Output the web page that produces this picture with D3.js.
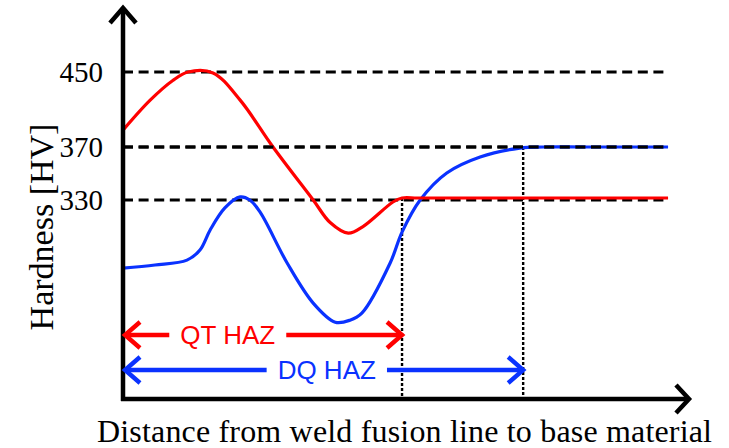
<!DOCTYPE html>
<html>
<head>
<meta charset="utf-8">
<script src="https://cdn.jsdelivr.net/npm/d3@7"></script>
<style>
  body { margin: 0; background: #fff; }
  svg { display: block; }
</style>
</head>
<body>
<svg id="chart" width="729" height="448"></svg>
<script>
// Hardness reference levels shown on the vertical axis
const hardnessTicks = [330, 370, 450];

// Quenched & tempered (QT) steel hardness profile across the HAZ
const qtDistance = [0, 4.8, 8.8, 11.5, 15.9, 20.7, 26.5, 33.6, 36.6, 39.8, 42.4, 47.7, 49.3, 52, 60, 96.3];
const qtHardness = [388, 420, 441, 450, 449, 420, 370, 330, 313, 305, 310, 328.5, 331.5, 331.5, 331.5, 331.5];

// Direct quenched (DQ) steel hardness profile across the HAZ
const dqDistance = [0, 5.65, 11.3, 13.6, 15.4, 18, 20.7, 22.4, 24.2, 29, 33.6, 37.5, 40.1, 42.2, 47.2, 49.3, 52.5, 57.2, 63.1, 70.1, 74.4, 82, 96.3];
const dqHardness = [278.7, 281, 284.7, 292.3, 307.4, 324, 332.3, 330, 321, 282.5, 252.3, 237.9, 239.4, 244.7, 282.5, 305.8, 330, 350.4, 362.5, 369.2, 370, 370, 370];

// HAZ widths (end of each zone) and where each label sits along its arrow
const hazNames = ["QT HAZ", "DQ HAZ"];
const hazEnd = [49.3, 70.7];
const hazBase = [331.5, 370];
const hazLabelAt = [18.5, 36];
const hazColors = ["#ff0000", "#0a32ff"];

const referenceEnd = 96.3;

const svg = d3.select("#chart");

const x = d3.scaleLinear().domain([0, 100]).range([123, 689]);
// Schematic (piecewise) hardness scale
const y = d3.scaleLinear()
  .domain([180, 330, 370, 450, 518])
  .range([399, 200, 147, 72, 8]);

const serif = "'Liberation Serif', 'Times New Roman', serif";
const sans = "'Liberation Sans', Arial, sans-serif";

// Dashed reference levels
svg.append("g")
  .selectAll("line")
  .data(hardnessTicks)
  .join("line")
  .attr("x1", x(0)).attr("x2", x(referenceEnd))
  .attr("y1", d => y(d)).attr("y2", d => y(d))
  .attr("stroke", "#000")
  .attr("stroke-width", 2.8)
  .attr("stroke-dasharray", "10,5.6");

// Dotted markers at the end of each HAZ
svg.append("g")
  .selectAll("line")
  .data(hazEnd)
  .join("line")
  .attr("x1", d => x(d)).attr("x2", d => x(d))
  .attr("y1", (d, i) => y(hazBase[i])).attr("y2", y(180))
  .attr("stroke", "#000")
  .attr("stroke-width", 2.4)
  .attr("stroke-dasharray", "3,2");

// Hardness profiles
const line = d3.line()
  .x(d => x(d[0]))
  .y(d => y(d[1]))
  .curve(d3.curveCatmullRom.alpha(0.5));

const qtPoints = qtDistance.map((d, i) => [d, qtHardness[i]]);
const dqPoints = dqDistance.map((d, i) => [d, dqHardness[i]]);

svg.append("path")
  .datum(dqPoints)
  .attr("d", line)
  .attr("fill", "none")
  .attr("stroke", hazColors[1])
  .attr("stroke-width", 3.2);

svg.append("path")
  .datum(qtPoints)
  .attr("d", line)
  .attr("fill", "none")
  .attr("stroke", hazColors[0])
  .attr("stroke-width", 3.2);

// Redraw the 370 level dashes over the DQ plateau
svg.append("line")
  .attr("x1", x(0)).attr("x2", x(referenceEnd))
  .attr("y1", y(370)).attr("y2", y(370))
  .attr("stroke", "#000")
  .attr("stroke-width", 2.8)
  .attr("stroke-dasharray", "10,5.6");

// Vertical axis with tick labels only
const yAxis = svg.append("g")
  .attr("transform", `translate(${x(0)},0)`)
  .call(d3.axisLeft(y).tickValues(hardnessTicks).tickSize(0).tickPadding(20));
yAxis.select(".domain").remove();
yAxis.selectAll("text")
  .attr("font-family", serif)
  .attr("font-size", 29)
  .attr("fill", "#000");

// Axis lines with open arrow heads
const chevron = d3.line();
const axisGroup = svg.append("g")
  .attr("fill", "none")
  .attr("stroke", "#000")
  .attr("stroke-width", 4.5);

axisGroup.append("path")
  .attr("d", chevron([[x(0), y(518)], [x(0), y(180) + 2]]));
axisGroup.append("path")
  .attr("d", chevron([[x(0) - 13, y(518) + 15], [x(0), y(518)], [x(0) + 13, y(518) + 15]]));

axisGroup.append("path")
  .attr("d", chevron([[x(0) - 2, y(180)], [x(100), y(180)]]));
axisGroup.append("path")
  .attr("d", chevron([[x(100) - 13, y(180) - 14], [x(100), y(180)], [x(100) - 13, y(180) + 14]]));

// HAZ width arrows with labels
const hazRows = [y(180) - 64, y(180) - 29];
hazNames.forEach((name, i) => {
  const g = svg.append("g");
  const row = hazRows[i];
  const color = hazColors[i];
  const label = g.append("text")
    .attr("x", x(hazLabelAt[i]))
    .attr("y", row)
    .attr("dy", "0.36em")
    .attr("text-anchor", "middle")
    .attr("font-family", sans)
    .attr("font-size", 26)
    .attr("fill", color)
    .text(name);
  const box = label.node().getBBox();
  const left = x(0) + 2;
  const right = x(hazEnd[i]);
  const gap = 11;
  const stroke = { "fill": "none", "stroke": color, "stroke-width": 4.4 };
  const paths = [
    [[left, row], [box.x - gap, row]],
    [[box.x + box.width + gap, row], [right, row]],
    [[left + 15, row - 13], [left, row], [left + 15, row + 13]],
    [[right - 15, row - 13], [right, row], [right - 15, row + 13]]
  ];
  paths.forEach(p => {
    const path = g.append("path").attr("d", chevron(p));
    Object.entries(stroke).forEach(([k, v]) => path.attr(k, v));
  });
});

// Axis titles
svg.append("text")
  .attr("transform", `translate(53,227) rotate(-90)`)
  .attr("text-anchor", "middle")
  .attr("font-family", serif)
  .attr("font-size", 34)
  .attr("fill", "#000")
  .text("Hardness [HV]");

svg.append("text")
  .attr("x", 97)
  .attr("y", 442)
  .attr("font-family", serif)
  .attr("font-size", 32)
  .attr("fill", "#000")
  .attr("textLength", 615)
  .attr("lengthAdjust", "spacing")
  .text("Distance from weld fusion line to base material");
</script>
</body>
</html>
